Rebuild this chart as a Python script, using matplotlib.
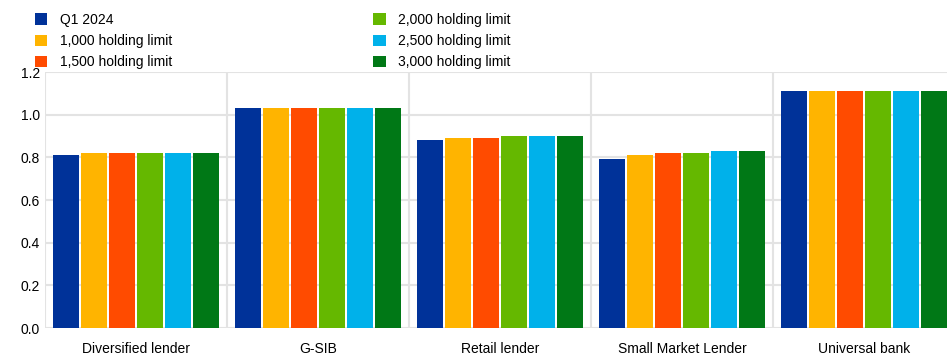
import matplotlib.pyplot as plt
import numpy as np
from matplotlib.patches import Patch

plt.rcParams['font.family'] = ['Liberation Sans', 'DejaVu Sans']

categories = ['Diversified lender', 'G-SIB', 'Retail lender', 'Small Market Lender', 'Universal bank']
series_names = ['Q1 2024', '1,000 holding limit', '1,500 holding limit',
                '2,000 holding limit', '2,500 holding limit', '3,000 holding limit']
q1_2024 = [0.81, 1.03, 0.88, 0.79, 1.11]
limit_1000 = [0.82, 1.03, 0.89, 0.81, 1.11]
limit_1500 = [0.82, 1.03, 0.89, 0.82, 1.11]
limit_2000 = [0.82, 1.03, 0.90, 0.82, 1.11]
limit_2500 = [0.82, 1.03, 0.90, 0.83, 1.11]
limit_3000 = [0.82, 1.03, 0.90, 0.83, 1.11]
colors = ['#003299', '#FFB400', '#FF4B00', '#65B800', '#00B1EA', '#007816']

series = [q1_2024, limit_1000, limit_1500, limit_2000, limit_2500, limit_3000]

fig = plt.figure(figsize=(9.47, 3.56), dpi=100)
ax = fig.add_axes([45 / 947, (356 - 328) / 356, 910 / 947, 256 / 356])

x = np.arange(len(categories))
step = 28 / 182
width = 26 / 182
for i, vals in enumerate(series):
    ax.bar(x + (i - 2.5) * step, vals, width=width, color=colors[i], zorder=3)

ax.set_xlim(-0.5, len(categories) - 0.5)
ax.set_ylim(0, 1.2)
ax.set_yticks(np.arange(0, 1.21, 0.2))
ax.set_yticklabels([f'{v:.1f}' for v in np.arange(0, 1.21, 0.2)])
ax.set_xticks(x)
ax.set_xticklabels(categories)
ax.set_xticks(np.arange(-0.5, len(categories)), minor=True)
ax.grid(axis='y', color='#e3e3e3', linewidth=1.5, zorder=0)
ax.grid(axis='x', which='minor', color='#e3e3e3', linewidth=1.5, zorder=0)
ax.grid(axis='x', which='major', visible=False)
ax.tick_params(axis='both', which='both', length=0, labelsize=10, colors='black')
ax.tick_params(axis='x', pad=10)
for s in ax.spines.values():
    s.set_visible(False)

handles = [Patch(facecolor=c, edgecolor='none') for c in colors]
fig.legend(handles, series_names, loc='upper left', bbox_to_anchor=(25 / 947, 1.0 - 3 / 356),
           ncol=2, frameon=False, fontsize=10, handlelength=0.9, handleheight=0.9,
           handletextpad=0.93, labelspacing=0.53, columnspacing=14.45, borderaxespad=0.3)

fig.savefig('out.png', dpi=100)
